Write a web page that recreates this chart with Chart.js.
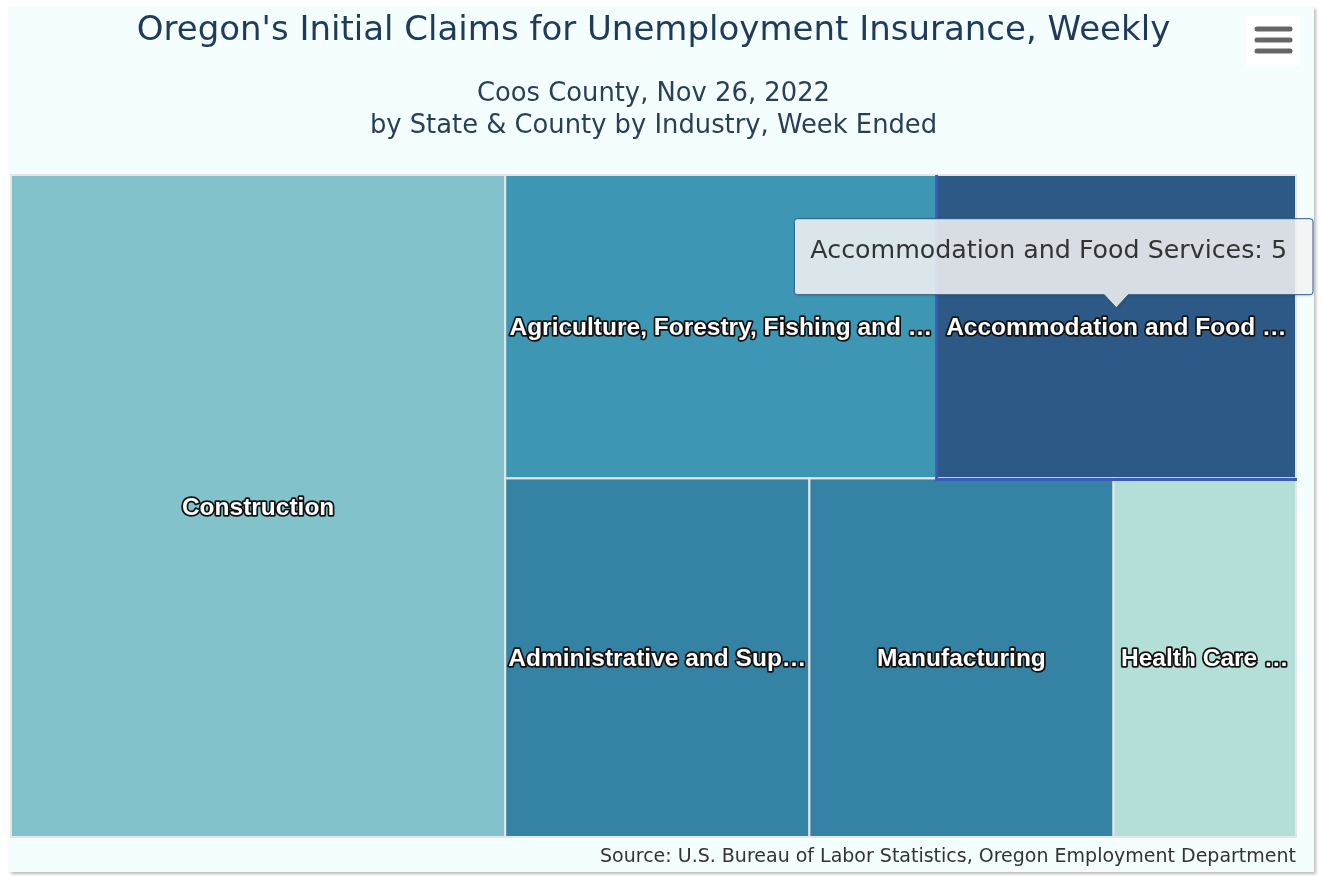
<!DOCTYPE html>
<html>
<head>
<meta charset="utf-8">
<script src="https://cdn.jsdelivr.net/npm/chart.js@4.4.0/dist/chart.umd.min.js"></script>
<style>
  body { margin: 0; background: #fff; }
  #box { position: absolute; left: 9px; top: 7px; width: 1305px; height: 865px;
         background: #f5feff; box-shadow: 2px 2px 3px #bbb; }
  #claimsChart { display: block; width: 1305px; height: 865px; }
</style>
</head>
<body>
<div id="box"><canvas id="claimsChart" width="1305" height="865"></canvas></div>
<script>
// claims by industry, Coos County, week ended Nov 26, 2022
const industries = [
  'Construction',
  'Agriculture, Forestry, Fishing and Hunting',
  'Accommodation and Food Services',
  'Administrative and Support and Waste Management and Remediation Services',
  'Manufacturing',
  'Health Care and Social Assistance'
];
const claims = [15, 6, 5, 5, 5, 3];
const cellColors = ['#82c3cb', '#3d97b4', '#2c5985', '#3483a5', '#3483a5', '#b3dfd8'];
const hoverIndex = 2;

// squarified layout with alternating direction (column first, then row, ...)
function layoutCells(values, W, H) {
  const total = values.reduce((a, b) => a + b, 0);
  const rects = [];
  let x = 0, y = 0, w = W, h = H, dir = 0;
  let row = [];

  const ratio = (items, it) => {
    const sum = items.reduce((a, b) => a + b.area, 0);
    if (dir === 0) { const cw = sum / h, ih = it.area / cw; return Math.max(cw / ih, ih / cw); }
    const rh = sum / w, iw = it.area / rh;
    return Math.max(rh / iw, iw / rh);
  };
  const place = items => {
    const sum = items.reduce((a, b) => a + b.area, 0);
    if (dir === 0) {
      const cw = sum / h; let yy = y;
      items.forEach(it => { const ih = it.area / cw; rects[it.i] = { x0: x, y0: yy, x1: x + cw, y1: yy + ih }; yy += ih; });
      x += cw; w -= cw;
    } else {
      const rh = sum / w; let xx = x;
      items.forEach(it => { const iw = it.area / rh; rects[it.i] = { x0: xx, y0: y, x1: xx + iw, y1: y + rh }; xx += iw; });
      y += rh; h -= rh;
    }
    dir = 1 - dir;
  };

  values.forEach((v, i) => {
    const item = { i, area: W * H * v / total };
    if (row.length) {
      const prev = row[row.length - 1];
      if (ratio([...row, item], prev) > ratio(row, prev)) { place(row); row = []; }
    }
    row.push(item);
  });
  place(row);
  // back to fractions of the plot, so the scales can map them
  return rects.map(r => ({ x0: r.x0 / W, x1: r.x1 / W, y0: r.y0 / H, y1: r.y1 / H }));
}

function fitText(ctx, text, maxW) {
  if (ctx.measureText(text).width <= maxW) return text;
  let t = text;
  while (t.length && ctx.measureText(t + '…').width > maxW) t = t.slice(0, -1);
  return t + '…';
}

const treemapPlugin = {
  id: 'treemapCells',
  afterDatasetsDraw(chart) {
    const { ctx, chartArea, scales } = chart;
    const cells = layoutCells(claims, chartArea.width, chartArea.height);
    const px = cells.map(c => ({
      left: scales.x.getPixelForValue(c.x0), right: scales.x.getPixelForValue(c.x1),
      top: scales.y.getPixelForValue(c.y0), bottom: scales.y.getPixelForValue(c.y1)
    }));

    ctx.save();
    px.forEach((p, i) => {
      ctx.fillStyle = cellColors[i];
      ctx.fillRect(p.left, p.top, p.right - p.left, p.bottom - p.top);
      ctx.strokeStyle = '#e6e6e6';
      ctx.lineWidth = 2;
      ctx.strokeRect(p.left, p.top, p.right - p.left, p.bottom - p.top);
    });

    // hovered cell border
    const hp = px[hoverIndex];
    ctx.strokeStyle = '#3c5bb8';
    ctx.lineWidth = 3;
    ctx.beginPath();
    ctx.moveTo(hp.left, hp.top);
    ctx.lineTo(hp.left, hp.bottom + 1);
    ctx.lineTo(hp.right + 1, hp.bottom + 1);
    ctx.stroke();

    // labels
    ctx.font = 'bold 24.5px "Liberation Sans", Arial, sans-serif';
    ctx.textAlign = 'center';
    ctx.textBaseline = 'middle';
    ctx.lineJoin = 'round';
    px.forEach((p, i) => {
      const txt = fitText(ctx, industries[i], p.right - p.left - 6);
      const cx = (p.left + p.right) / 2, cy = (p.top + p.bottom) / 2 + 2;
      ctx.strokeStyle = '#111';
      ctx.lineWidth = 3.5;
      ctx.strokeText(txt, cx, cy);
      ctx.fillStyle = '#fff';
      ctx.fillText(txt, cx, cy);
    });

    // tooltip for the hovered cell
    const tipX = (hp.left + hp.right) / 2;
    const tipY = (hp.top + hp.bottom) / 2 - 19;
    ctx.font = '25.3px "DejaVu Sans", sans-serif';
    const name = industries[hoverIndex], val = ': ' + claims[hoverIndex];
    const tw = ctx.measureText(name + val).width;
    const bw = tw + 42, bh = 76;
    let bx = tipX - bw / 2;
    bx = Math.min(bx, chart.width - bw - 1);
    const by = tipY - 13 - bh;
    ctx.shadowColor = 'rgba(0,0,0,0.15)';
    ctx.shadowOffsetX = 1; ctx.shadowOffsetY = 1; ctx.shadowBlur = 3;
    ctx.beginPath();
    ctx.moveTo(bx + 3, by);
    ctx.lineTo(bx + bw - 3, by);
    ctx.quadraticCurveTo(bx + bw, by, bx + bw, by + 3);
    ctx.lineTo(bx + bw, by + bh - 3);
    ctx.quadraticCurveTo(bx + bw, by + bh, bx + bw - 3, by + bh);
    ctx.lineTo(tipX + 12, by + bh);
    ctx.lineTo(tipX, tipY);
    ctx.lineTo(tipX - 12, by + bh);
    ctx.lineTo(bx + 3, by + bh);
    ctx.quadraticCurveTo(bx, by + bh, bx, by + bh - 3);
    ctx.lineTo(bx, by + 3);
    ctx.quadraticCurveTo(bx, by, bx + 3, by);
    ctx.closePath();
    ctx.fillStyle = 'rgba(247,247,247,0.85)';
    ctx.fill();
    ctx.shadowColor = 'transparent';
    ctx.strokeStyle = '#2c5985';
    ctx.lineWidth = 1;
    ctx.stroke();
    ctx.textAlign = 'left';
    ctx.fillStyle = '#333';
    ctx.fillText(name, bx + 16, by + bh / 2 - 5);
    ctx.fillText(val, bx + 16 + ctx.measureText(name).width, by + bh / 2 - 5);

    // credits
    ctx.font = '19px "DejaVu Sans", sans-serif';
    ctx.textAlign = 'right';
    ctx.fillStyle = '#333';
    ctx.fillText('Source: U.S. Bureau of Labor Statistics, Oregon Employment Department', chartArea.right, chartArea.bottom + 20);

    // export menu button
    ctx.fillStyle = '#ffffff';
    ctx.fillRect(1237, 9, 54, 50);
    ctx.strokeStyle = '#666';
    ctx.lineWidth = 5;
    ctx.lineCap = 'round';
    [22, 33, 44].forEach(yy => {
      ctx.beginPath();
      ctx.moveTo(1248, yy);
      ctx.lineTo(1281, yy);
      ctx.stroke();
    });
    ctx.restore();
  }
};

const ctx = document.getElementById('claimsChart').getContext('2d');
const chart = new Chart(ctx, {
  type: 'scatter',
  data: { datasets: [{ data: [] }] },
  options: {
    responsive: false,
    animation: false,
    events: [],
    layout: { padding: { left: 2, right: 18, top: 0, bottom: 35 } },
    scales: {
      x: { type: 'linear', min: 0, max: 1, display: false },
      y: { type: 'linear', min: 0, max: 1, reverse: true, display: false }
    },
    plugins: {
      legend: { display: false },
      tooltip: { enabled: false },
      title: {
        display: true,
        text: "Oregon's Initial Claims for Unemployment Insurance, Weekly",
        color: '#1f3b5a',
        font: { family: '"DejaVu Sans", sans-serif', size: 34, weight: 'normal', lineHeight: 1.2 },
        padding: { top: 4, bottom: 26.2 }
      },
      subtitle: {
        display: true,
        text: ['Coos County, Nov 26, 2022', 'by State & County by Industry, Week Ended'],
        color: '#283f58',
        font: { family: '"DejaVu Sans", sans-serif', size: 25.8, lineHeight: 1.24 },
        padding: { top: 0, bottom: 33 }
      }
    }
  },
  plugins: [treemapPlugin]
});
</script>
</body>
</html>
